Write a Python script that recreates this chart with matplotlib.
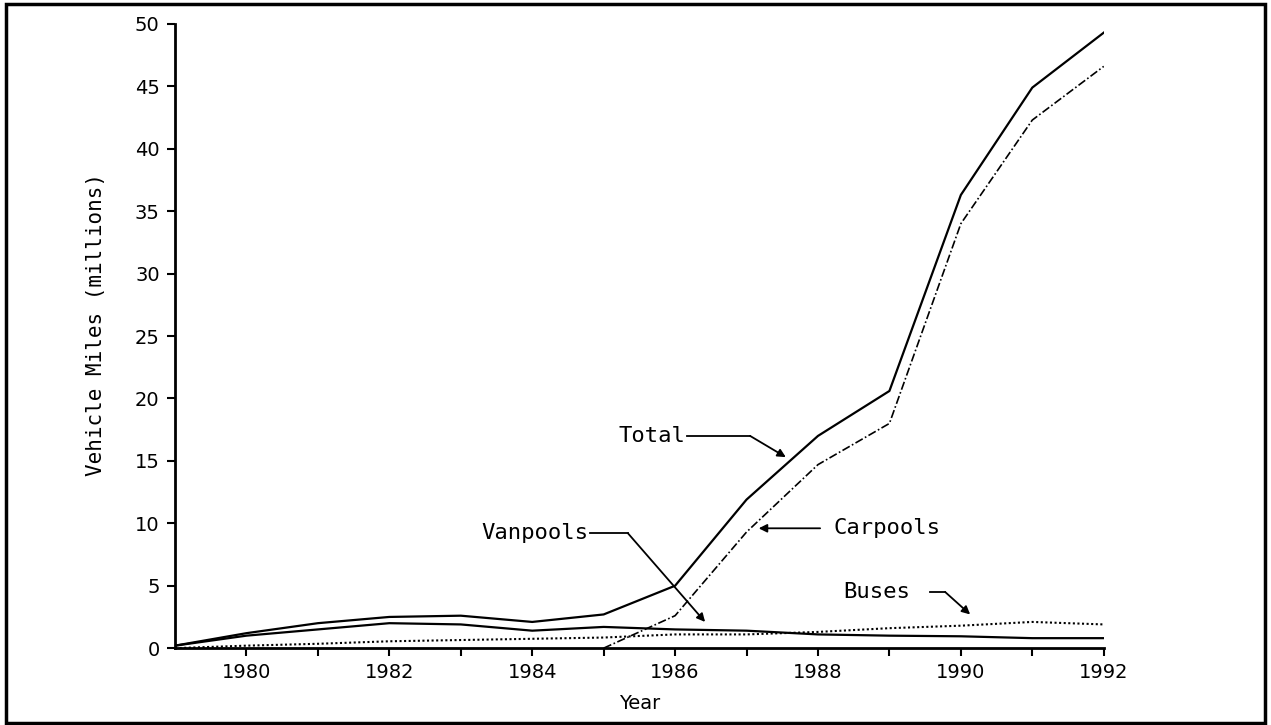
import numpy as np
import matplotlib
matplotlib.use("Agg")
import matplotlib.pyplot as plt
from matplotlib.patches import Rectangle

###  Data (vehicle miles, millions)
years = [1979, 1980, 1981, 1982, 1983, 1984, 1985, 1986, 1987, 1988, 1989, 1990, 1991, 1992]
total = [0.2, 1.2, 2.0, 2.5, 2.6, 2.1, 2.7, 5.0, 11.9, 17.0, 20.6, 36.3, 44.9, 49.3]
vanpools = [0.2, 1.0, 1.5, 2.0, 1.9, 1.4, 1.7, 1.5, 1.4, 1.1, 1.0, 0.95, 0.8, 0.8]
buses = [0.0, 0.2, 0.35, 0.55, 0.65, 0.75, 0.85, 1.1, 1.1, 1.3, 1.6, 1.8, 2.1, 1.9]
carpool_years = [1985, 1986, 1987, 1988, 1989, 1990, 1991, 1992]
carpools = [0.0, 2.6, 9.3, 14.7, 18.0, 34.0, 42.3, 46.6]

xlabels = ["1980", "1982", "1984", "1986", "1988", "1990", "1992"]

plt.rcParams['font.family'] = 'DejaVu Sans'
fs = 14
mono = 'DejaVu Sans Mono'

fig = plt.figure(figsize=(12.71, 7.25), dpi=100)
ax = fig.add_axes([0.1377, 0.106, 0.7307, 0.861])

ax.plot(years, total, color='black', lw=1.6, solid_joinstyle='round')
ax.plot(years, vanpools, color='black', lw=1.6)
ax.plot(years, buses, color='black', lw=1.5, ls=(0, (1, 1.2)))
ax.plot(carpool_years, carpools, color='black', lw=1.2, ls=(0, (5, 1.5, 1, 1.5)))

ax.set_xlim(1979, 1992)
ax.set_ylim(0, 50)
ax.set_xticks([1980, 1982, 1984, 1986, 1988, 1990, 1992])
ax.set_xticklabels(xlabels)
ax.set_xticks(years[1:], minor=True)
ax.set_yticks(np.arange(0, 51, 5))
ax.tick_params(axis='both', which='both', direction='out', length=6, width=1.5,
               labelsize=fs, pad=5)
for s in ['top', 'right']:
    ax.spines[s].set_visible(False)
for s in ['left', 'bottom']:
    ax.spines[s].set_linewidth(2)

ax.set_xlabel("Year", fontsize=fs, labelpad=8)
ax.set_ylabel("Vehicle Miles (millions)", fontsize=15, family=mono)
ax.yaxis.set_label_coords(-0.074, 0.518)

# labels with leader arrows
arrow = dict(arrowstyle='-|>', color='black', lw=1.3, mutation_scale=12,
             shrinkA=0, shrinkB=0)
lfs = 16
ax.text(1986.14, 17.0, "Total", fontsize=lfs, family=mono, ha='right', va='center')
ax.plot([1986.17, 1987.05], [17.0, 17.0], color='black', lw=1.3)
ax.annotate("", xy=(1987.55, 15.3), xytext=(1987.05, 17.0), arrowprops=arrow)

ax.text(1984.78, 9.2, "Vanpools", fontsize=lfs, family=mono, ha='right', va='center')
ax.plot([1984.81, 1985.34], [9.2, 9.2], color='black', lw=1.3)
ax.annotate("", xy=(1986.42, 2.1), xytext=(1985.34, 9.2), arrowprops=arrow)

ax.text(1988.22, 9.6, "Carpools", fontsize=lfs, family=mono, ha='left', va='center')
ax.annotate("", xy=(1987.17, 9.6), xytext=(1988.03, 9.6), arrowprops=arrow)

ax.text(1988.36, 4.5, "Buses", fontsize=lfs, family=mono, ha='left', va='center')
ax.plot([1989.57, 1989.78], [4.5, 4.5], color='black', lw=1.3)
ax.annotate("", xy=(1990.13, 2.7), xytext=(1989.78, 4.5), arrowprops=arrow)

# outer frame
fig.patches.append(Rectangle((0.005, 0.003), 0.99, 0.991, transform=fig.transFigure,
                             fill=False, edgecolor='black', lw=2.5))

fig.savefig("out.png", dpi=100)
